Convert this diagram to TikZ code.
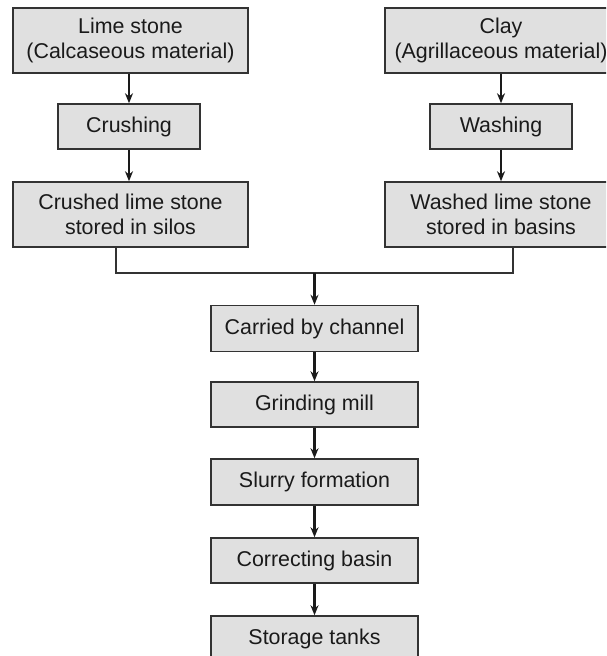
\documentclass[tikz,border=0pt]{standalone}
\usepackage{fontspec}
\setmainfont{Liberation Sans}
\usetikzlibrary{arrows.meta}
\definecolor{boxfill}{HTML}{E0E0E0}
\definecolor{boxline}{HTML}{333333}
\definecolor{ink}{HTML}{1A1A1A}
\begin{document}
\begin{tikzpicture}[x=0.5pt,y=-0.5pt,
  box/.style={draw=boxline, fill=boxfill, line width=0.75pt, align=center,
    inner sep=0pt, text=ink,
    font=\fontsize{10.7pt}{12.8pt}\selectfont},
  wide/.style={box, minimum width=117.5pt, minimum height=32.5pt},
  small/.style={box, minimum width=71pt, minimum height=22.5pt},
  mid/.style={box, minimum width=103.5pt, minimum height=23pt},
  arr/.style={draw=ink, line width=1.2pt, -{Stealth[length=5pt,width=4pt]}},
  link/.style={draw=boxline, line width=0.65pt}]
\useasboundingbox (0,0) rectangle (606,656);
\clip (0,0) rectangle (606,656);
\fill[white] (0,0) rectangle (606,656);
% left column
\node[wide] (lime) at (130.5,40.5) {Lime stone\\(Calcaseous material)};
\node[small] (crush) at (129,126.5) {Crushing};
\node[wide] (crushed) at (130.5,214.5) {Crushed lime stone\\stored in silos};
% right column
\node[wide, minimum width=116pt] (clay) at (501,40.5) {Clay\\(Agrillaceous material)};
\node[small] (wash) at (501,126.5) {Washing};
\node[wide, minimum width=116pt] (washed) at (501,214.5) {Washed lime stone\\stored in basins};
% middle column
\node[mid] (carried) at (314.5,328.5) {Carried by channel};
\node[mid, minimum height=22.5pt] (grind) at (314.5,404.5) {Grinding mill};
\node[mid] (slurry) at (314.5,482) {Slurry formation};
\node[mid, minimum height=22.5pt] (correct) at (314.5,560.5) {Correcting basin};
\node[mid] (storage) at (314.5,639) {Storage tanks};
% junction
\coordinate (jl) at (116,273);
\coordinate (jr) at (513,273);
\coordinate (jm) at (314.5,273);
\draw[arr] (lime.south -| crush) -- (crush);
\draw[arr] (crush) -- (crushed.north -| crush);
\draw[arr] (clay.south -| wash) -- (wash);
\draw[arr] (wash) -- (washed.north -| wash);
\draw[link] (crushed.south -| jl) -- (jl) -- (jr) -- (washed.south -| jr);
\draw[arr] (jm) -- (carried);
\draw[arr] (carried) -- (grind);
\draw[arr] (grind) -- (slurry);
\draw[arr] (slurry) -- (correct);
\draw[arr] (correct) -- (storage);
\end{tikzpicture}
\end{document}
